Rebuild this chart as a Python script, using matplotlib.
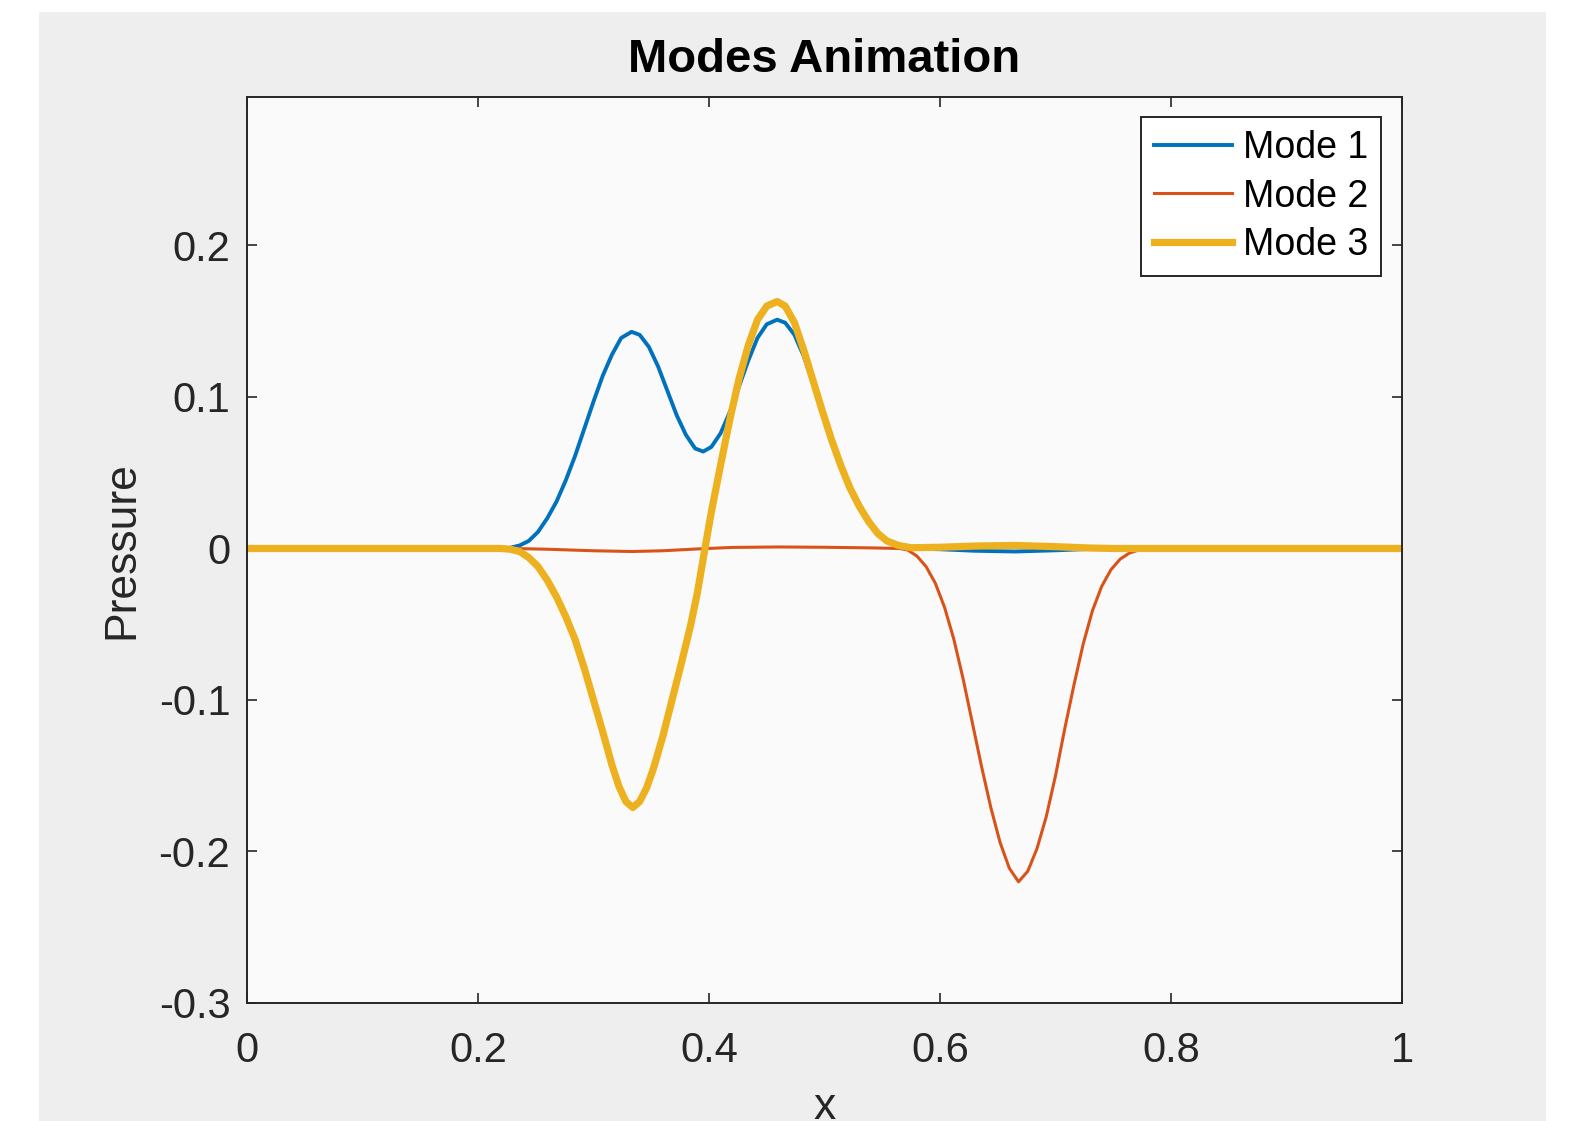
import numpy as np
import matplotlib
matplotlib.use('Agg')
import matplotlib.pyplot as plt
from matplotlib.patches import Rectangle

plt.rcParams['font.family'] = ['Liberation Sans', 'DejaVu Sans']

# values
mode1_x = [0.0, 0.22, 0.228, 0.236, 0.244, 0.252, 0.260, 0.268, 0.276, 0.284,
           0.292, 0.300, 0.308, 0.316, 0.324, 0.333, 0.340, 0.348, 0.356,
           0.364, 0.372, 0.380, 0.388, 0.395, 0.402, 0.410, 0.418, 0.426,
           0.434, 0.442, 0.450, 0.459, 0.466, 0.474, 0.482, 0.490, 0.498,
           0.506, 0.514, 0.522, 0.530, 0.538, 0.546, 0.554, 0.562, 0.572,
           0.60, 0.63, 0.665, 0.70, 0.73, 0.75, 1.0]
mode1_y = [0.0, 0.0, 0.0005, 0.002, 0.005, 0.011, 0.020, 0.031, 0.045, 0.061,
           0.079, 0.097, 0.114, 0.128, 0.139, 0.143, 0.141, 0.133, 0.120,
           0.104, 0.088, 0.075, 0.066, 0.064, 0.067, 0.076, 0.090, 0.107,
           0.124, 0.139, 0.148, 0.151, 0.149, 0.141, 0.127, 0.109, 0.090,
           0.071, 0.054, 0.040, 0.028, 0.018, 0.010, 0.005, 0.002, 0.0,
           -0.0005, -0.0015, -0.002, -0.0012, -0.0003, 0.0, 0.0]

mode2_x = [0.0, 0.23, 0.26, 0.30, 0.333, 0.36, 0.39, 0.42, 0.46, 0.50, 0.54,
           0.565, 0.572, 0.580, 0.588, 0.596, 0.604, 0.612, 0.620, 0.628,
           0.636, 0.644, 0.652, 0.660, 0.668, 0.676, 0.684, 0.692, 0.700,
           0.708, 0.716, 0.724, 0.732, 0.740, 0.748, 0.756, 0.764, 0.772,
           0.78, 1.0]
mode2_y = [0.0, 0.0, -0.0005, -0.0015, -0.002, -0.0015, -0.0003, 0.0007,
           0.001, 0.0008, 0.0004, 0.0, -0.001, -0.005, -0.012, -0.023, -0.039,
           -0.060, -0.086, -0.115, -0.144, -0.171, -0.194, -0.211, -0.220,
           -0.213, -0.198, -0.177, -0.150, -0.119, -0.090, -0.063, -0.041,
           -0.025, -0.014, -0.007, -0.003, -0.001, 0.0, 0.0]

mode3_x = [0.0, 0.22, 0.228, 0.236, 0.244, 0.252, 0.260, 0.268, 0.276, 0.284,
           0.292, 0.300, 0.308, 0.316, 0.322, 0.328, 0.334, 0.340, 0.346,
           0.352, 0.360, 0.368, 0.376, 0.384, 0.390, 0.3965, 0.402, 0.410,
           0.418, 0.426, 0.434, 0.442, 0.450, 0.459, 0.466, 0.474, 0.482,
           0.490, 0.498, 0.506, 0.514, 0.522, 0.530, 0.538, 0.546, 0.554,
           0.564, 0.575, 0.60, 0.63, 0.665, 0.70, 0.73, 0.75, 1.0]
mode3_y = [0.0, 0.0, -0.0005, -0.002, -0.006, -0.012, -0.021, -0.032, -0.045,
           -0.060, -0.079, -0.100, -0.121, -0.143, -0.157, -0.167, -0.171,
           -0.167, -0.158, -0.145, -0.124, -0.100, -0.076, -0.051, -0.029,
           0.0, 0.024, 0.055, 0.085, 0.112, 0.134, 0.151, 0.160, 0.163,
           0.160, 0.149, 0.131, 0.111, 0.091, 0.072, 0.055, 0.040, 0.028,
           0.018, 0.010, 0.005, 0.002, 0.0005, 0.0008, 0.0016, 0.002, 0.0012,
           0.0003, 0.0, 0.0]

xticks = [0, 0.2, 0.4, 0.6, 0.8, 1]
xticklabels = ['0', '0.2', '0.4', '0.6', '0.8', '1']
yticks = [-0.3, -0.2, -0.1, 0, 0.1, 0.2]
yticklabels = ['-0.3', '-0.2', '-0.1', '0', '0.1', '0.2']

W, H = 1569, 1121
fig = plt.figure(figsize=(W / 100, H / 100), dpi=100, facecolor='white')
# grey figure panel of the screenshot
fig.patches.append(Rectangle((39 / W, 0), (1546 - 39) / W, (H - 12) / H,
                             transform=fig.transFigure, facecolor='#eeeeee',
                             edgecolor='none', zorder=-10))

ax = fig.add_axes([247 / W, 1 - 1003 / H, (1402 - 247) / W, (1003 - 97) / H])
ax.set_facecolor('#fafafa')

ax.plot(mode1_x, mode1_y, color='#0072BD', lw=2.8, label='Mode 1')
ax.plot(mode2_x, mode2_y, color='#D95319', lw=2.2, label='Mode 2')
ax.plot(mode3_x, mode3_y, color='#EDB120', lw=5.2, label='Mode 3')

ax.set_xlim(0, 1)
ax.set_ylim(-0.3, 0.298)
ax.set_xticks(xticks)
ax.set_xticklabels(xticklabels)
ax.set_yticks(yticks)
ax.set_yticklabels(yticklabels)
ax.tick_params(direction='in', length=7, width=1.2, colors='#262626',
               labelsize=30, top=True, right=True)
ax.tick_params(axis='y', pad=12)
ax.tick_params(axis='x', pad=20)
for s in ax.spines.values():
    s.set_color('#262626')
    s.set_linewidth(1.4)

ax.set_title('Modes Animation', fontsize=34, fontweight='bold', pad=18)
ax.set_xlabel('x', fontsize=32, color='#262626', labelpad=12)
ax.set_ylabel('Pressure', fontsize=32, color='#262626', labelpad=12)

leg = ax.legend(loc='upper right', bbox_to_anchor=(0.9818, 0.9779),
                borderaxespad=0, fontsize=27, fancybox=False,
                edgecolor='#262626', facecolor='white', framealpha=1,
                handlelength=2.1, handletextpad=0.27, labelspacing=0.33,
                borderpad=0.35)
leg.get_frame().set_linewidth(1.4)

fig.savefig('out.png', dpi=100, facecolor=fig.get_facecolor())
